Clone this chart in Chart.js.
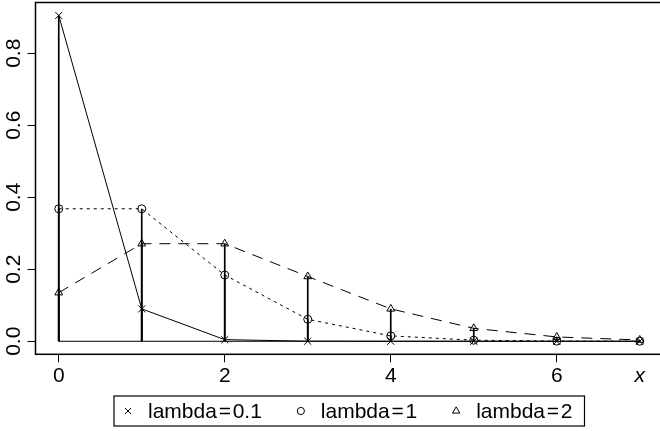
<!DOCTYPE html>
<html>
<head>
<meta charset="utf-8">
<script src="https://cdn.jsdelivr.net/npm/chart.js@4.4.1/dist/chart.umd.min.js"></script>
<style>
  html, body { margin: 0; padding: 0; background: #fff; overflow: hidden; }
  #wrap { width: 660px; height: 431px; overflow: hidden; }
</style>
</head>
<body>
<div id="wrap"><canvas id="c" width="664" height="431"></canvas></div>
<script>
/* --- data --- */
const xs = [0, 1, 2, 3, 4, 5, 6, 7];
const pLambda01 = [0.905, 0.090, 0.0045, 0.0002, 0, 0, 0, 0];
const pLambda1 = [0.368, 0.368, 0.184, 0.061, 0.015, 0.003, 0.0005, 0.0001];
const pLambda2 = [0.135, 0.271, 0.271, 0.180, 0.090, 0.036, 0.012, 0.0035];
// plotmath style: tight spacing around "="
const seriesLabels = ["lambda\u200A=\u200A0.1", "lambda\u200A=\u200A1", "lambda\u200A=\u200A2"];
const xTicks = [0, 2, 4, 6];
const yTicks = [0, 0.2, 0.4, 0.6, 0.8];
const xAxisName = "x";
const xAxisNameAt = 7;

const FONT = "'Liberation Sans', Arial, Helvetica, sans-serif";
const FSIZE = 21;
const series = [
  { values: pLambda01, point: "crossRot", radius: 5, legendRadius: 4.3, dash: [] },
  { values: pLambda1, point: "circle", radius: 4, legendRadius: 3.6, dash: [3, 4] },
  { values: pLambda2, point: "triangle", radius: 4.5, legendRadius: 4.2, dash: [11, 8] }
];

const pts = vals => xs.map((x, i) => ({ x, y: vals[i] }));
// vertical spikes from 0 up to each value (R type "h")
const spikes = vals => xs.flatMap((x, i) => [{ x, y: 0 }, { x, y: vals[i] }, { x, y: null }]);

const datasets = [];
series.forEach((s, i) => {
  datasets.push({
    label: seriesLabels[i], data: pts(s.values), showLine: true,
    borderColor: "#000", borderWidth: 1, borderDash: s.dash,
    pointStyle: s.point, pointRadius: s.radius, pointBorderWidth: 1,
    pointBorderColor: "#000", pointBackgroundColor: "rgba(0,0,0,0)"
  });
});
series.forEach(s => {
  datasets.push({
    data: spikes(s.values), showLine: true, spanGaps: false,
    borderColor: "#000", borderWidth: 1.7, pointRadius: 0
  });
});
datasets.push({
  data: [{ x: xs[0], y: 0 }, { x: xs[xs.length - 1], y: 0 }], showLine: true,
  borderColor: "#000", borderWidth: 1, pointRadius: 0
});

/* --- plugins: frame, rotated y labels, boxed legend --- */
const frame = {
  id: "frame",
  afterDraw(chart) {
    const { ctx, chartArea: a } = chart;
    ctx.save();
    ctx.strokeStyle = "#000";
    ctx.lineWidth = 1.5;
    ctx.strokeRect(a.left, a.top, a.right - a.left, a.bottom - a.top);
    ctx.restore();
  }
};

const yLabels = {
  id: "yLabels",
  afterDraw(chart) {
    const { ctx } = chart;
    const y = chart.scales.y;
    ctx.save();
    ctx.fillStyle = "#000";
    ctx.font = `${FSIZE}px ${FONT}`;
    ctx.textAlign = "center";
    ctx.textBaseline = "middle";
    yTicks.forEach(v => {
      ctx.save();
      ctx.translate(14.5, y.getPixelForValue(v));
      ctx.rotate(-Math.PI / 2);
      ctx.fillText(v.toFixed(1), 0, 0);
      ctx.restore();
    });
    ctx.restore();
  }
};

const legendBox = {
  id: "legendBox",
  afterDraw(chart) {
    const { ctx, chartArea } = chart;
    ctx.save();
    ctx.font = `${FSIZE}px ${FONT}`;
    const widths = seriesLabels.map(t => ctx.measureText(t).width);
    const padL = 14, symGap = 20, itemGap = 39, padR = 12;
    const total = padL + widths.reduce((s, w) => s + symGap + w, 0) + itemGap * (widths.length - 1) + padR;
    const cx = (chartArea.left + chartArea.right) / 2;
    const left = cx - total / 2, top = 396, h = 30, cy = top + h / 2;

    ctx.strokeStyle = "#000";
    ctx.lineWidth = 1.2;
    ctx.strokeRect(left, top, total, h);

    ctx.fillStyle = "#000";
    ctx.textAlign = "left";
    ctx.textBaseline = "middle";
    let x = left + padL;
    seriesLabels.forEach((t, i) => {
      ctx.save();
      ctx.fillStyle = "rgba(0,0,0,0)";
      ctx.lineWidth = 1;
      Chart.helpers.drawPoint(ctx, { pointStyle: series[i].point, radius: series[i].legendRadius, borderWidth: 1 }, x, cy);
      ctx.restore();
      ctx.fillText(t, x + symGap, cy + 1);
      x += symGap + widths[i] + itemGap;
    });
    ctx.restore();
  }
};

new Chart(document.getElementById("c"), {
  type: "scatter",
  data: { datasets },
  options: {
    responsive: false,
    animation: false,
    events: [],
    layout: { autoPadding: false, padding: { top: 2.5, right: 1, bottom: 0, left: 0 } },
    plugins: { legend: { display: false }, tooltip: { enabled: false } },
    scales: {
      x: {
        type: "linear", min: -0.28, max: 7.28,
        afterBuildTicks: s => { s.ticks = xTicks.concat([xAxisNameAt]).map(v => ({ value: v })); },
        afterFit: s => { s.height = 76.7; },
        border: { display: false },
        grid: {
          display: true, drawOnChartArea: false, drawTicks: true, tickLength: 8,
          color: "#000", lineWidth: 1,
          tickColor: c => (c.tick && c.tick.value === xAxisNameAt ? "rgba(0,0,0,0)" : "#000")
        },
        ticks: {
          autoSkip: false, minRotation: 0, maxRotation: 0, padding: 1, color: "#000",
          font: c => ({ family: FONT, size: FSIZE, style: c.tick && c.tick.value === xAxisNameAt ? "italic" : "normal" }),
          callback: v => (v === xAxisNameAt ? xAxisName : String(v))
        }
      },
      y: {
        type: "linear", min: -0.0362, max: 0.941,
        afterBuildTicks: s => { s.ticks = yTicks.map(v => ({ value: v })); },
        afterFit: s => { s.width = 35.5; },
        border: { display: false },
        grid: { display: true, drawOnChartArea: false, drawTicks: true, tickLength: 8, color: "#000", lineWidth: 1 },
        ticks: { display: false }
      }
    }
  },
  plugins: [frame, yLabels, legendBox]
});
</script>
</body>
</html>
